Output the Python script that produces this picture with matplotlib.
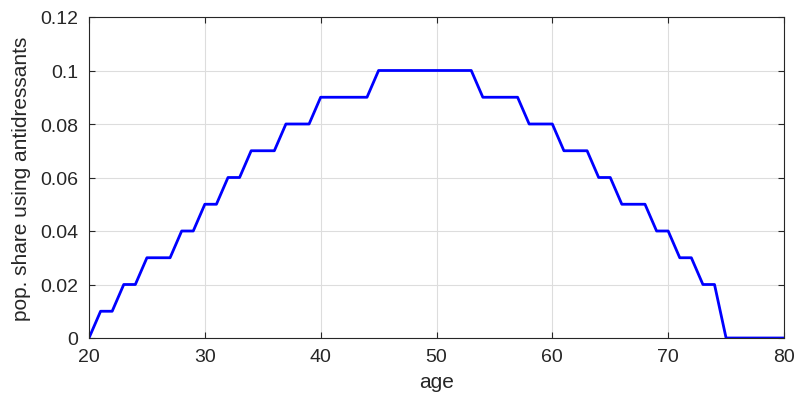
import matplotlib
matplotlib.use("Agg")
import matplotlib.pyplot as plt

ages = list(range(20, 81))
share = [0, 0.01, 0.01, 0.02, 0.02, 0.03, 0.03, 0.03, 0.04, 0.04,
         0.05, 0.05, 0.06, 0.06, 0.07, 0.07, 0.07, 0.08, 0.08, 0.08,
         0.09, 0.09, 0.09, 0.09, 0.09, 0.1, 0.1, 0.1, 0.1, 0.1,
         0.1, 0.1, 0.1, 0.1, 0.09, 0.09, 0.09, 0.09, 0.08, 0.08,
         0.08, 0.07, 0.07, 0.07, 0.06, 0.06, 0.05, 0.05, 0.05, 0.04,
         0.04, 0.03, 0.03, 0.02, 0.02, 0, 0, 0, 0, 0, 0]
xticks = [20, 30, 40, 50, 60, 70, 80]
yticks = [0, 0.02, 0.04, 0.06, 0.08, 0.1, 0.12]
yticklabels = ["0", "0.02", "0.04", "0.06", "0.08", "0.1", "0.12"]

plt.rcParams['font.family'] = ['Liberation Sans', 'DejaVu Sans']
fig = plt.figure(figsize=(7.95, 4.02), dpi=100)
ax = fig.add_axes([89/795, 1-339/402, (784-89)/795, (339-18)/402])
ax.plot(ages, share, color='#0000ff', linewidth=2)
ax.set_xlim(20, 80)
ax.set_ylim(0, 0.12)
ax.set_xticks(xticks)
ax.set_yticks(yticks)
ax.set_yticklabels(yticklabels)
ax.grid(True, color='#dddddd', linewidth=0.8)
ax.set_axisbelow(True)
for s in ax.spines.values():
    s.set_color('#262626')
    s.set_linewidth(0.8)
ax.tick_params(direction='in', labelsize=14, colors='#262626', top=True, right=True, length=4)
ax.tick_params(axis='x', pad=7)
ax.tick_params(axis='y', pad=8)
ax.set_xlabel('age', fontsize=15, color='#262626', labelpad=5)
ax.set_ylabel('pop. share using antidressants', fontsize=15, color='#262626', labelpad=6)
fig.savefig('out.png', dpi=100)
